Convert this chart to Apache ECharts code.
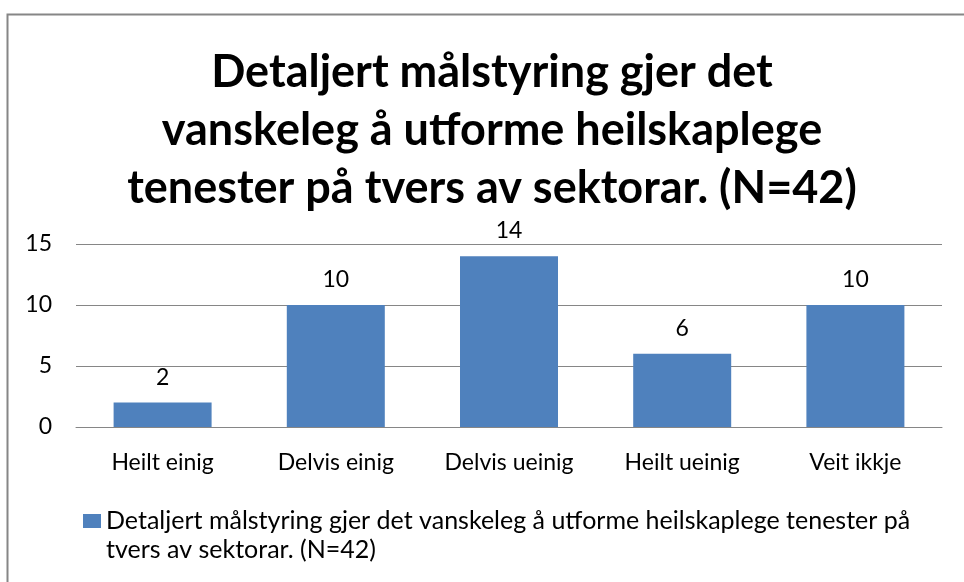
<!DOCTYPE html>
<html>
<head>
<meta charset="utf-8">
<script src="https://cdn.jsdelivr.net/npm/echarts@6/dist/echarts.min.js"></script>
<style>
  html, body { margin: 0; padding: 0; background: #fff; }
  #chart { width: 964px; height: 582px; }
</style>
</head>
<body>
<div id="chart"></div>
<script>
// data
var categories = ['Heilt einig', 'Delvis einig', 'Delvis ueinig', 'Heilt ueinig', 'Veit ikkje'];
var values = [2, 10, 14, 6, 10];
var seriesName = 'Detaljert målstyring gjer det vanskeleg å utforme heilskaplege tenester på tvers av sektorar. (N=42)';
var titleText = 'Detaljert målstyring gjer det\nvanskeleg å utforme heilskaplege\ntenester på tvers av sektorar. (N=42)';

var chart = echarts.init(document.getElementById('chart'));
var font = 'Lato, "Liberation Sans", sans-serif';

var option = {
  backgroundColor: '#fff',
  animation: false,
  title: {
    text: titleText,
    left: 487,
    textAlign: 'center',
    top: 38,
    textStyle: {
      fontFamily: font,
      fontWeight: 'bold',
      fontSize: 45,
      lineHeight: 58,
      color: '#000'
    }
  },
  // chart frame
  graphic: [{
    type: 'rect',
    shape: { x: 7.5, y: 14.5, width: 1000, height: 1000 },
    style: { fill: 'none', stroke: '#868686', lineWidth: 2 },
    silent: true
  }],
  grid: { left: 76, right: 22, top: 244, bottom: 155, containLabel: false },
  legend: {
    left: 83,
    top: 506,
    padding: 0,
    itemWidth: 18,
    itemHeight: 56,
    // square sits next to the first line of the wrapped text
    icon: 'path://M0,0L0.01,0Z M0,7L18,7L18,21L0,21Z M0,56L0.01,56Z',
    data: [seriesName],
    formatter: function (name) {
      return name.replace(' på tvers', ' på\ntvers');
    },
    textStyle: {
      fontFamily: font,
      fontSize: 25,
      color: '#000',
      lineHeight: 29
    }
  },
  xAxis: {
    type: 'category',
    data: categories,
    axisLine: { lineStyle: { color: '#868686', width: 1 } },
    axisTick: { show: false },
    axisLabel: { interval: 0, fontFamily: font, fontSize: 23, color: '#000', margin: 24 }
  },
  yAxis: {
    type: 'value',
    min: 0,
    max: 15,
    interval: 5,
    axisLine: { show: false },
    axisTick: { show: false },
    axisLabel: { fontFamily: font, fontSize: 23, color: '#000', margin: 24 },
    splitLine: { lineStyle: { color: '#868686', width: 1 } }
  },
  series: [{
    name: seriesName,
    type: 'bar',
    data: values,
    barWidth: 98,
    itemStyle: { color: '#4F81BD' },
    label: {
      show: true,
      position: 'top',
      distance: 14,
      fontFamily: font,
      fontSize: 23,
      color: '#000'
    }
  }]
};

chart.setOption(option);
</script>
</body>
</html>
